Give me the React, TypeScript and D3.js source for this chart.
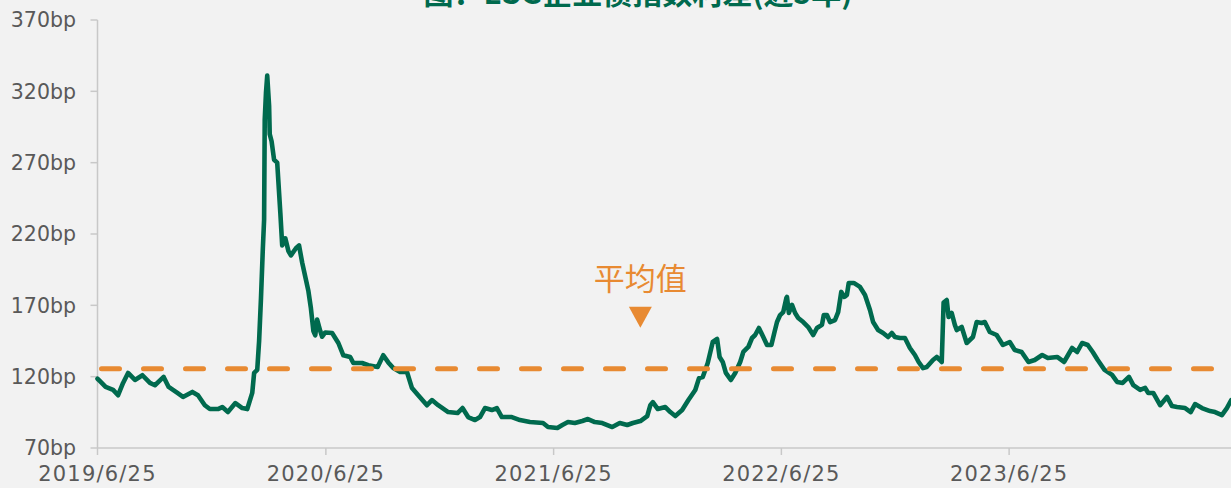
import React from "react";
import * as d3 from "d3";

const titleText = "图：ESG企业债指数利差(近5年)";
const annotationText = "平均值";
const meanValue = 125.5;
const annotationDate = "2021-11-11";
const yTicks = [70, 120, 170, 220, 270, 320, 370];
const xTickDates = ["2019-06-25", "2020-06-25", "2021-06-25", "2022-06-25", "2023-06-25"];
const xTickLabels = ["2019/6/25", "2020/6/25", "2021/6/25", "2022/6/25", "2023/6/25"];

const spreadSeries: [string, number][] = [
  ["2019-06-25",118.5],["2019-06-27",117.7],["2019-07-08",112.8],["2019-07-20",110.7],["2019-07-28",107],["2019-08-05",115.6],["2019-08-13",122.6],["2019-08-24",117.7],["2019-09-05",121],["2019-09-17",115.6],["2019-09-25",114],["2019-10-04",117.7],["2019-10-09",119.8],["2019-10-17",112.8],["2019-10-31",108.6],["2019-11-09",105.8],["2019-11-24",109.3],["2019-12-03",107],["2019-12-14",100],["2019-12-22",97.3],["2020-01-04",97.3],["2020-01-11",98.7],["2020-01-20",95.2],["2020-02-01",101.5],["2020-02-12",98],["2020-02-20",97.3],["2020-02-28",108.6],["2020-03-02",122.6],["2020-03-07",124.7],["2020-03-10",145],["2020-03-13",175],["2020-03-16",210],["2020-03-18",230],["2020-03-19",300],["2020-03-21",319],["2020-03-23",331],["2020-03-26",310],["2020-03-27",290],["2020-03-30",285],["2020-04-03",272],["2020-04-08",270],["2020-04-13",235],["2020-04-16",212],["2020-04-21",217],["2020-04-26",208],["2020-04-30",205],["2020-05-08",210],["2020-05-13",212],["2020-05-18",200],["2020-05-23",190],["2020-05-28",180],["2020-06-01",168],["2020-06-05",152],["2020-06-08",149],["2020-06-11",160],["2020-06-16",152],["2020-06-19",148],["2020-06-24",151],["2020-07-05",150.6],["2020-07-15",143.6],["2020-07-23",135],["2020-08-03",133.8],["2020-08-08",129.6],["2020-08-22",129.6],["2020-09-01",128],["2020-09-16",126.8],["2020-09-25",135],["2020-10-03",130],["2020-10-11",126],["2020-10-22",123.3],["2020-11-02",123.3],["2020-11-10",112],["2020-11-20",107],["2020-12-04",100],["2020-12-12",103.6],["2020-12-22",100],["2021-01-07",95.2],["2021-01-22",94.5],["2021-01-30",98],["2021-02-08",91.7],["2021-02-19",89.6],["2021-02-27",91.7],["2021-03-07",98],["2021-03-18",96.6],["2021-03-26",98],["2021-04-03",91.7],["2021-04-19",91.7],["2021-05-02",89.6],["2021-05-18",88.2],["2021-06-08",87.5],["2021-06-16",84.7],["2021-07-01",84],["2021-07-09",86.1],["2021-07-18",88.2],["2021-07-29",87.5],["2021-08-10",88.9],["2021-08-19",90.3],["2021-08-30",88.2],["2021-09-11",87.5],["2021-09-19",86.1],["2021-09-27",84.7],["2021-10-09",87.5],["2021-10-21",86.1],["2021-10-30",87.5],["2021-11-11",88.9],["2021-11-22",92.4],["2021-11-27",100],["2021-12-01",102.2],["2021-12-09",97.3],["2021-12-21",98.7],["2021-12-29",95.2],["2022-01-06",92.4],["2022-01-17",96.6],["2022-01-27",103.6],["2022-02-07",110.7],["2022-02-13",119],["2022-02-19",119.8],["2022-02-27",129.6],["2022-03-07",144.3],["2022-03-14",146.4],["2022-03-18",133.8],["2022-03-23",130.3],["2022-03-28",122.6],["2022-04-05",117.7],["2022-04-12",122.6],["2022-04-20",130.3],["2022-04-25",137.3],["2022-05-03",140.8],["2022-05-09",147.1],["2022-05-14",149.2],["2022-05-20",154.1],["2022-05-27",147.8],["2022-06-02",142.2],["2022-06-09",142.2],["2022-06-14",151.3],["2022-06-18",158.3],["2022-06-23",163.2],["2022-06-28",165.3],["2022-07-03",175.2],["2022-07-04",175.9],["2022-07-07",164.6],["2022-07-12",170.3],["2022-07-17",164.6],["2022-07-22",161.1],["2022-07-30",158.3],["2022-08-07",154.8],["2022-08-15",149.2],["2022-08-21",154.1],["2022-08-29",156.3],["2022-09-01",163.2],["2022-09-06",163.2],["2022-09-11",158.3],["2022-09-19",159.7],["2022-09-24",165.3],["2022-09-29",179.4],["2022-10-04",175.9],["2022-10-08",177.3],["2022-10-11",185.7],["2022-10-19",185.7],["2022-10-29",182.9],["2022-11-06",177.3],["2022-11-14",166.7],["2022-11-19",158.3],["2022-11-27",152.7],["2022-12-05",150.6],["2022-12-13",147.8],["2022-12-19",150.6],["2022-12-24",147.8],["2023-01-01",147.1],["2023-01-09",147.1],["2023-01-17",140.1],["2023-01-25",135.2],["2023-01-31",130.3],["2023-02-07",126],["2023-02-13",126.8],["2023-02-23",131.7],["2023-03-01",133.8],["2023-03-06",131.7],["2023-03-09",130.3],["2023-03-12",172],["2023-03-17",173.7],["2023-03-20",161.8],["2023-03-25",164.6],["2023-03-30",156.3],["2023-04-02",152.7],["2023-04-10",154.8],["2023-04-18",143.6],["2023-04-28",147.8],["2023-05-04",158.3],["2023-05-12",157.6],["2023-05-17",158.3],["2023-05-25",151.3],["2023-06-05",149.2],["2023-06-15",142.2],["2023-06-26",144.3],["2023-07-04",138.7],["2023-07-15",137.3],["2023-07-26",130.3],["2023-08-05",131.7],["2023-08-17",135.2],["2023-08-26",133.1],["2023-09-10",133.8],["2023-09-21",130.3],["2023-10-04",140.1],["2023-10-12",137.3],["2023-10-20",143.6],["2023-10-29",142.2],["2023-11-06",137.3],["2023-11-14",131.7],["2023-11-25",124.7],["2023-12-07",121.2],["2023-12-15",116.3],["2023-12-24",115.6],["2024-01-03",119.8],["2024-01-10",114.1],["2024-01-21",110.7],["2024-01-29",112.1],["2024-02-03",108.6],["2024-02-11",108.6],["2024-02-22",100],["2024-03-04",105.8],["2024-03-12",99.4],["2024-03-20",98.7],["2024-04-02",98],["2024-04-11",95.2],["2024-04-18",100.8],["2024-04-29",98],["2024-05-12",95.9],["2024-05-20",95.2],["2024-05-31",93.1],["2024-06-08",98],["2024-06-15",103.6]
];

const W = 1231;
const H = 488;
const parse = d3.timeParse("%Y-%m-%d");

export default function App() {
  const x = d3
    .scaleTime()
    .domain([parse("2019-06-25")!, parse("2024-06-25")!])
    .range([97.5, 97.5 + 5 * 228]);
  const y = d3.scaleLinear().domain([70, 370]).range([448, 20]);
  const data = spreadSeries.map(([d, v]) => ({ date: parse(d)!, value: v }));
  const line = d3
    .line<{ date: Date; value: number }>()
    .x((d) => x(d.date))
    .y((d) => y(d.value));
  const x0 = x.range()[0];
  const xEnd = W;
  const axisColor = "#c8c8c8";
  const labelColor = "#595959";
  const font = "'DejaVu Sans', sans-serif";
  const ax = x(parse(annotationDate)!);
  const my = y(meanValue);

  return (
    <svg
      width={W}
      height={H}
      style={{ position: "absolute", left: 0, top: 0, background: "#f2f2f2" }}
    >
      <rect x={0} y={0} width={W} height={H} fill="#f2f2f2" />
      <text
        x={638}
        y={4}
        textAnchor="middle"
        fill="#006a4e"
        fontWeight="bold"
        fontSize={30}
        fontFamily="'Noto Sans CJK SC', sans-serif"
      >
        {titleText}
      </text>
      {/* y axis */}
      <line x1={x0} x2={x0} y1={y(370)} y2={y(70)} stroke={axisColor} strokeWidth={1.5} />
      {yTicks.map((t) => (
        <g key={t}>
          <line x1={x0 - 7} x2={x0} y1={y(t)} y2={y(t)} stroke={axisColor} strokeWidth={1.5} />
          <text
            x={76}
            y={y(t)}
            dy="0.36em"
            textAnchor="end"
            fill={labelColor}
            fontSize={20.5}
            fontFamily={font}
          >
            {t}bp
          </text>
        </g>
      ))}
      {/* x axis */}
      <line x1={x0} x2={xEnd} y1={y(70)} y2={y(70)} stroke={axisColor} strokeWidth={1.5} />
      {xTickDates.map((d, i) => {
        const px = x(parse(d)!);
        return (
          <g key={d}>
            <line x1={px} x2={px} y1={y(70)} y2={y(70) + 7} stroke={axisColor} strokeWidth={1.5} />
            <text
              x={px}
              y={481}
              textAnchor="middle"
              fill={labelColor}
              fontSize={21}
              letterSpacing={1.2}
              fontFamily={font}
            >
              {xTickLabels[i]}
            </text>
          </g>
        );
      })}
      {/* series */}
      <path
        d={line(data) || ""}
        fill="none"
        stroke="#006a4e"
        strokeWidth={4.6}
        strokeLinejoin="round"
        strokeLinecap="round"
      />
      {/* mean line */}
      <line
        x1={x0 + 4}
        x2={xEnd + 10}
        y1={my}
        y2={my}
        stroke="#e88a32"
        strokeWidth={5}
        strokeDasharray="18 24"
        strokeLinecap="round"
      />
      {/* annotation */}
      <text
        x={ax}
        y={290}
        textAnchor="middle"
        fill="#e88a32"
        fontSize={31}
        fontFamily="'Noto Sans CJK SC', sans-serif"
      >
        {annotationText}
      </text>
      <path
        d={`M${ax - 11.5},${my - 62} L${ax + 11.5},${my - 62} L${ax},${my - 41} Z`}
        fill="#e88a32"
      />
    </svg>
  );
}
